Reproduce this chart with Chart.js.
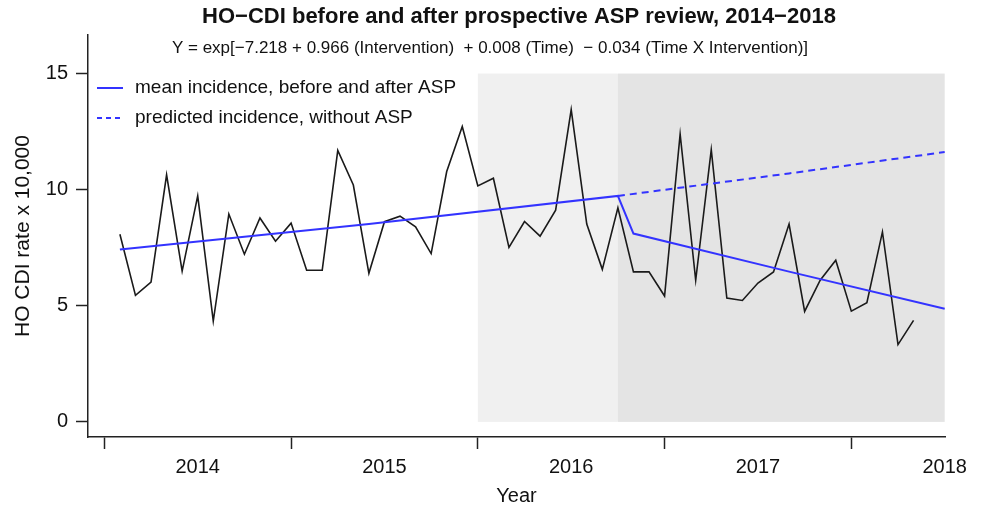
<!DOCTYPE html>
<html>
<head>
<meta charset="utf-8">
<title>HO-CDI before and after prospective ASP review</title>
<script src="https://cdn.jsdelivr.net/npm/chart.js@4/dist/chart.umd.min.js"></script>
<style>
  html, body { margin: 0; padding: 0; background: #fff; }
  #wrap { width: 989px; height: 508px; }
</style>
</head>
<body>
<div id="wrap"><canvas id="cdiChart"></canvas></div>
<script>
// month index (1 = first month of 2014)
const months = Array.from({ length: 52 }, (_, i) => i + 1);

// monthly HO-CDI rate x 10,000
const cdiRates = [
    8.08, 5.45, 6.02, 10.64, 6.49, 9.73, 4.34, 8.95, 7.22, 8.78, 7.78, 8.56,
    6.53, 6.53, 11.69, 10.20, 6.40, 8.62, 8.86, 8.40, 7.25, 10.78, 12.72, 10.16,
    10.49, 7.51, 8.63, 8.00, 9.12, 13.45, 8.52, 6.57, 9.22, 6.46, 6.46, 5.42,
    12.39, 6.10, 11.72, 5.33, 5.23, 5.98, 6.46, 8.52, 4.76, 6.10, 6.96, 4.77,
    5.13, 8.18, 3.33, 4.37
];

// fitted mean incidence, before and after ASP
const meanMonths = [1, 17, 33, 34, 44, 54];
const meanValues = [7.42, 8.52, 9.73, 8.11, 6.47, 4.87];

// predicted incidence without ASP
const predMonths = [33, 44, 54];
const predValues = [9.73, 10.70, 11.62];

// shaded periods (start month, end month, colour)
const shadeStart = [24, 33];
const shadeEnd = [33, 54];
const shadeColors = ['#f0f0f0', '#e4e4e4'];
const shadeTop = 15;

// axis ticks
const xTickMarks = [0, 12, 24, 36, 48];
const xLabelPos = [6, 18, 30, 42, 54];
const xLabels = ['2014', '2015', '2016', '2017', '2018'];
const yTicks = [0, 5, 10, 15];

const titleText = 'HO\u2212CDI before and after prospective ASP review, 2014\u22122018';
const subtitleText = 'Y = exp[\u22127.218 + 0.966 (Intervention)  + 0.008 (Time)  \u2212 0.034 (Time X Intervention)]';

const FONT = '"Liberation Sans", Arial, Helvetica, sans-serif';
const BLUE = '#3333ff';

const toPoints = (xs, ys) => xs.map((x, i) => ({ x: x, y: ys[i] }));

const shadePlugin = {
    id: 'shade',
    beforeDatasetsDraw(chart) {
        const { ctx, scales: { x, y } } = chart;
        ctx.save();
        shadeStart.forEach((s, i) => {
            const x0 = x.getPixelForValue(s);
            const x1 = x.getPixelForValue(shadeEnd[i]);
            const y0 = y.getPixelForValue(shadeTop);
            const y1 = y.getPixelForValue(0);
            ctx.fillStyle = shadeColors[i];
            ctx.fillRect(x0, y0, x1 - x0, y1 - y0);
        });
        ctx.restore();
    }
};

const textPlugin = {
    id: 'texts',
    afterDraw(chart) {
        const { ctx, chartArea } = chart;
        ctx.save();
        ctx.fillStyle = '#111';
        ctx.textAlign = 'center';
        ctx.textBaseline = 'middle';
        ctx.font = 'bold 22px ' + FONT;
        ctx.fillText(titleText, 519, 17);
        ctx.font = '17px ' + FONT;
        ctx.fillText(subtitleText, 490, 48);

        // legend, top-left inside the plot
        ctx.textAlign = 'left';
        ctx.font = '19px ' + FONT;
        const legendSets = chart.data.datasets.filter(d => d.legend);
        legendSets.forEach((d, i) => {
            const ly = 88 + i * 30;
            ctx.strokeStyle = d.borderColor;
            ctx.lineWidth = d.borderWidth;
            ctx.setLineDash(d.borderDash ? [5, 4] : []);
            ctx.beginPath();
            ctx.moveTo(chartArea.left + 9, ly);
            ctx.lineTo(chartArea.left + 35, ly);
            ctx.stroke();
            ctx.setLineDash([]);
            ctx.fillStyle = '#111';
            ctx.fillText(d.label, chartArea.left + 47, ly);
        });
        ctx.restore();
    }
};

new Chart(document.getElementById('cdiChart').getContext('2d'), {
    type: 'line',
    data: {
        datasets: [
            {
                label: 'mean incidence, before and after ASP',
                legend: true,
                data: toPoints(meanMonths, meanValues),
                borderColor: BLUE,
                borderWidth: 2,
                pointRadius: 0,
                tension: 0,
                order: 1
            },
            {
                label: 'predicted incidence, without ASP',
                legend: true,
                data: toPoints(predMonths, predValues),
                borderColor: BLUE,
                borderWidth: 2,
                borderDash: [7, 5],
                pointRadius: 0,
                tension: 0,
                order: 2
            },
            {
                label: 'HO-CDI rate',
                legend: false,
                data: toPoints(months, cdiRates),
                borderColor: '#1a1a1a',
                borderWidth: 1.6,
                pointRadius: 0,
                tension: 0,
                order: 3
            }
        ]
    },
    options: {
        responsive: true,
        maintainAspectRatio: false,
        animation: false,
        layout: { padding: { top: 35, right: 44, left: 0, bottom: 0 } },
        plugins: {
            legend: { display: false },
            title: { display: false },
            tooltip: { enabled: false }
        },
        scales: {
            x: {
                type: 'linear',
                min: -1.05,
                max: 54.02,
                afterBuildTicks: (s) => {
                    s.ticks = xTickMarks.concat(xLabelPos).sort((a, b) => a - b).map(v => ({ value: v }));
                },
                afterFit: (s) => { s.height = 71; },
                grid: {
                    drawOnChartArea: false,
                    drawTicks: true,
                    tickLength: 12,
                    tickWidth: 1.5,
                    tickColor: (c) => (c.tick && xTickMarks.includes(c.tick.value)) ? '#222' : 'rgba(0,0,0,0)'
                },
                border: { display: true, color: '#222', width: 1.5 },
                ticks: {
                    autoSkip: false,
                    maxRotation: 0,
                    padding: 6,
                    color: '#111',
                    font: { family: FONT, size: 20 },
                    callback: (v) => {
                        const k = xLabelPos.indexOf(v);
                        return k >= 0 ? xLabels[k] : '';
                    }
                },
                title: {
                    display: true,
                    text: 'Year',
                    color: '#111',
                    font: { family: FONT, size: 20 },
                    padding: { top: 0, bottom: 0 }
                }
            },
            y: {
                type: 'linear',
                min: -0.65,
                max: 16.66,
                afterBuildTicks: (s) => { s.ticks = yTicks.map(v => ({ value: v })); },
                afterFit: (s) => { s.width = 88; },
                grid: {
                    drawOnChartArea: false,
                    drawTicks: true,
                    tickLength: 12,
                    tickWidth: 1.5,
                    tickColor: '#222'
                },
                border: { display: true, color: '#222', width: 1.5 },
                ticks: {
                    padding: 8,
                    color: '#111',
                    font: { family: FONT, size: 20 }
                },
                title: {
                    display: true,
                    text: 'HO CDI rate x 10,000',
                    color: '#111',
                    font: { family: FONT, size: 21 },
                    padding: { top: 11, bottom: 0 }
                }
            }
        }
    },
    plugins: [shadePlugin, textPlugin]
});
</script>
</body>
</html>
